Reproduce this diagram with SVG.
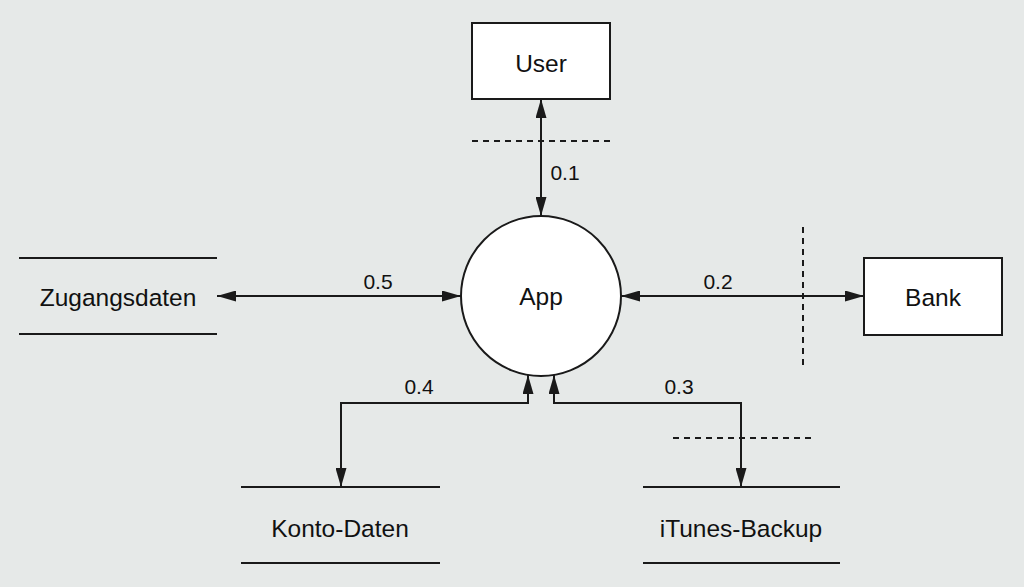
<svg xmlns="http://www.w3.org/2000/svg" width="1024" height="587" viewBox="0 0 1024 587">
<style>
.bg{fill:#e6e9e8}
.box{fill:#fff;stroke:#1a1a1a;stroke-width:2}
.store{stroke:#1a1a1a;stroke-width:2}
.t{font-family:"Liberation Sans",Arial,sans-serif;font-size:24.5px;fill:#111;text-anchor:middle;dominant-baseline:central}
.l{font-family:"Liberation Sans",Arial,sans-serif;font-size:21px;fill:#111;text-anchor:middle;dominant-baseline:central}
.c{fill:none;stroke:#1a1a1a;stroke-width:2;marker-start:url(#ah);marker-end:url(#ah)}
.d{fill:none;stroke:#1a1a1a;stroke-width:2;stroke-dasharray:6,5}
</style>
<defs>
<marker id="ah" viewBox="0 0 19 11" refX="19" refY="5.5" markerWidth="19" markerHeight="11" markerUnits="userSpaceOnUse" orient="auto-start-reverse">
<path d="M0,0 L19,5.5 L0,11 z" fill="#1a1a1a"/>
</marker>
</defs>
<rect class="bg" x="0" y="0" width="1024" height="587"/>
<g id="boundaries">
<line class="d" x1="472" y1="141" x2="610" y2="141"/>
<line class="d" x1="803" y1="227" x2="803" y2="366"/>
<line class="d" x1="673" y1="438" x2="811" y2="438"/>
</g>
<g id="connectors">
<line class="c" x1="541" y1="99" x2="541" y2="216"/>
<line class="c" x1="621" y1="296" x2="864" y2="296"/>
<line class="c" x1="217" y1="296" x2="461" y2="296"/>
<path class="c" d="M341,487 L341,403 L528,403 L528,375"/>
<path class="c" d="M741,487 L741,403 L554,403 L554,375"/>
<text class="l" x="565" y="172">0.1</text>
<text class="l" x="718" y="281">0.2</text>
<text class="l" x="679" y="386">0.3</text>
<text class="l" x="419" y="386">0.4</text>
<text class="l" x="378" y="281">0.5</text>
</g>
<g id="app">
<circle cx="541" cy="296" r="80" fill="#fff" stroke="#1a1a1a" stroke-width="2"/>
<text class="t" x="541" y="296">App</text>
</g>
<g id="user">
<rect class="box" x="472" y="23" width="138" height="76"/>
<text class="t" x="541" y="63">User</text>
</g>
<g id="bank">
<rect class="box" x="864" y="258" width="138" height="77"/>
<text class="t" x="933" y="297">Bank</text>
</g>
<g id="zugangsdaten">
<line class="store" x1="19" y1="258" x2="217" y2="258"/>
<line class="store" x1="19" y1="334" x2="217" y2="334"/>
<text class="t" x="118" y="297">Zugangsdaten</text>
</g>
<g id="konto-daten">
<line class="store" x1="241" y1="487" x2="440" y2="487"/>
<line class="store" x1="241" y1="563" x2="440" y2="563"/>
<text class="t" x="340" y="528">Konto-Daten</text>
</g>
<g id="itunes-backup">
<line class="store" x1="643" y1="487" x2="840" y2="487"/>
<line class="store" x1="643" y1="563" x2="840" y2="563"/>
<text class="t" x="741" y="528">iTunes-Backup</text>
</g>
</svg>
